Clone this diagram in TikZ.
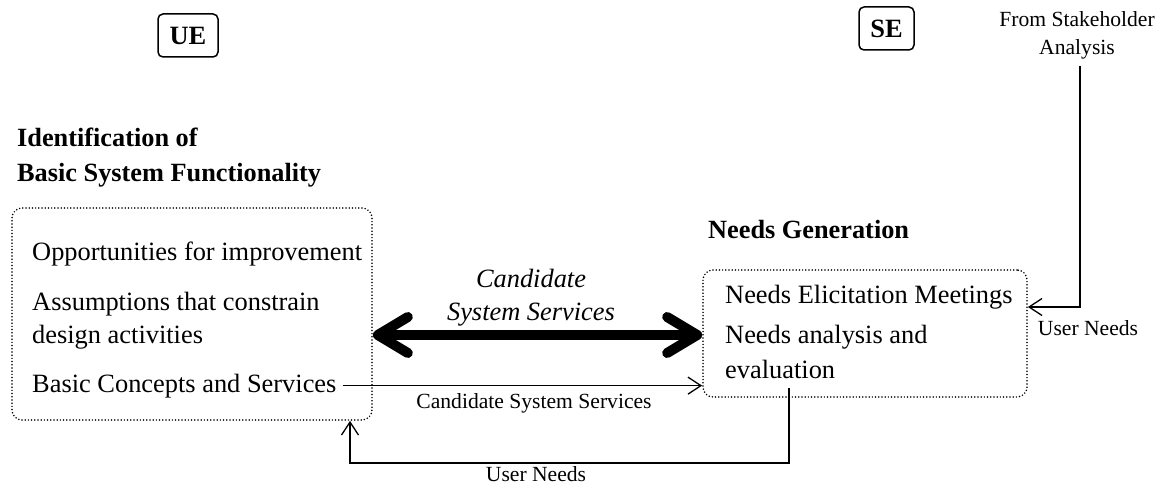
\documentclass[tikz,border=0pt]{standalone}
\usepackage{fontspec}
\setmainfont{Liberation Serif}
\usetikzlibrary{arrows.meta}
\begin{document}
\begin{tikzpicture}[x=1pt,y=-1pt,
  txt/.style={inner sep=0pt, anchor=base west, font=\fontsize{26.4}{35}\selectfont},
  head/.style={txt, font=\fontsize{26.3}{35}\selectfont\bfseries},
  emph/.style={inner sep=0pt, anchor=base, font=\fontsize{26.4}{35}\selectfont\itshape},
  small/.style={inner sep=0pt, anchor=base, font=\fontsize{21.6}{28}\selectfont},
  tag/.style={draw, rounded corners=5pt, line width=1.5pt, inner sep=0pt,
    minimum height=43pt, font=\fontsize{26.4}{30}\selectfont\bfseries},
  group/.style={draw, line cap=round, dash pattern=on 0pt off 3.2pt, line width=1.7pt,
    rounded corners=10pt, inner sep=0pt},
  flow/.style={line width=1.3pt, -{Straight Barb[length=13pt,width=17pt]}},
  bigflow/.style={line width=10pt,
    {Straight Barb[round,length=30pt,width=36pt]}-{Straight Barb[round,length=30pt,width=36pt]}}
]
\useasboundingbox (0,0) rectangle (1159,489);

% discipline tags
\node[tag, minimum width=60pt] (ue) at (188,35.5) {UE};
\node[tag, minimum width=55pt] (se) at (886.5,28.5) {SE};

% left activity group
\node[head] (t1) at (17,147) {Identification of};
\node[head] (t2) at (17,182) {Basic System Functionality};
\node[group, minimum width=360pt, minimum height=212pt] (L) at (192,314) {};
\node[txt] (o1) at (32,260) {Opportunities for improvement};
\node[txt] (a1) at (32,310) {Assumptions that constrain};
\node[txt] (a2) at (32,343) {design activities};
\node[txt] (bc) at (32,392) {Basic Concepts and Services};

% right activity group
\node[head] (ng) at (708,238) {Needs Generation};
\node[group, minimum width=324pt, minimum height=127pt] (R) at (865,333.5) {};
\node[txt] (n1) at (725,303) {Needs Elicitation Meetings};
\node[txt] (n2) at (725,343) {Needs analysis and};
\node[txt] (n3) at (725,378) {evaluation};

% exchange between the groups
\node[emph] (c1) at (531,287) {Candidate};
\node[emph] (c2) at (531,320) {System Services};
\draw[bigflow] (L.east |- 0,335) -- (R.west |- 0,335);

\draw[flow] ([xshift=6pt]bc.east) -- (R.west |- bc.east);
\node[small] (cl) at (534,408) {Candidate System Services};

\draw[flow] ([yshift=10pt]R.south -| 789,0) -- ++(0,75) -| (L.south -| 350,0);
\node[small] (un1) at (536,481) {User Needs};

% external input
\node[small] (fs1) at (1077,27) {From Stakeholder};
\node[small] (fs2) at (1077,55) {Analysis};
\coordinate (src) at (1080,66);
\draw[flow] (src) |- (R.east |- 0,307);
\node[small] (un2) at (1088,335) {User Needs};
\end{tikzpicture}
\end{document}
